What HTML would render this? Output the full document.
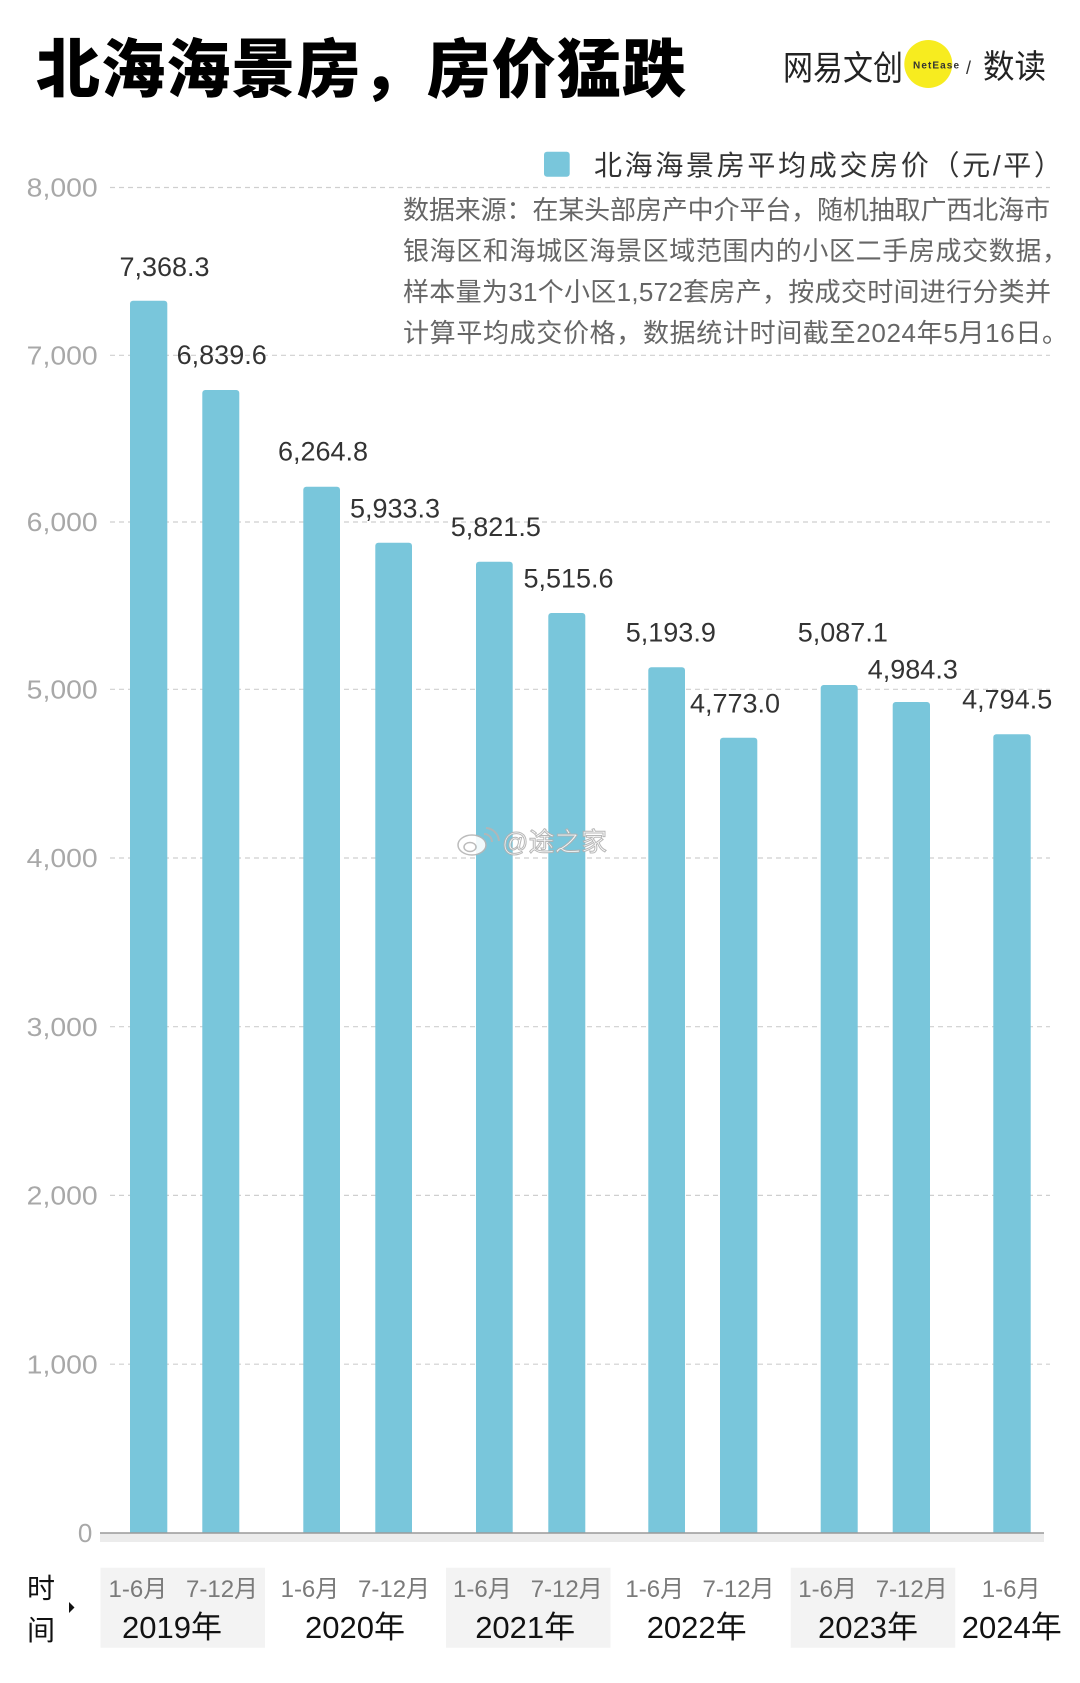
<!DOCTYPE html>
<html>
<head>
<meta charset="utf-8">
<style>
  html,body{margin:0;padding:0;background:#fff;}
  svg{display:block;}
  .cjk{font-family:"Liberation Sans","Noto Sans CJK SC",sans-serif;}
  .lat{font-family:"Liberation Sans","Noto Sans CJK SC",sans-serif;}
</style>
</head>
<body>
<svg width="1080" height="1683" viewBox="0 0 1080 1683" xmlns="http://www.w3.org/2000/svg">
  <rect x="0" y="0" width="1080" height="1683" fill="#ffffff"/>

  <!-- Title -->
  <text class="cjk" x="36" y="92" font-size="64" font-weight="900" fill="#000" textLength="650" lengthAdjust="spacing">北海海景房，房价猛跌</text>

  <!-- Logo -->
  <text class="cjk" x="783" y="80" font-size="34" fill="#222" textLength="120" lengthAdjust="spacingAndGlyphs">网易文创</text>
  <circle cx="928.3" cy="64" r="24" fill="#f7ec1f"/>
  <text class="lat" x="913" y="68.5" font-size="10" font-weight="bold" fill="#333" textLength="46" lengthAdjust="spacing">NetEase</text>
  <text class="lat" x="966" y="74" font-size="18" fill="#333">/</text>
  <text class="cjk" x="983" y="78" font-size="33" fill="#222" textLength="63" lengthAdjust="spacingAndGlyphs">数读</text>

  <!-- Gridlines -->
  <g stroke="#cfcfcf" stroke-width="1.2" stroke-dasharray="5 4">
    <line x1="110" y1="187.5" x2="1050" y2="187.5"/>
    <line x1="110" y1="355.3" x2="1050" y2="355.3"/>
    <line x1="110" y1="522" x2="1050" y2="522"/>
    <line x1="110" y1="689.3" x2="1050" y2="689.3"/>
    <line x1="110" y1="858" x2="1050" y2="858"/>
    <line x1="110" y1="1026.7" x2="1050" y2="1026.7"/>
    <line x1="110" y1="1195.4" x2="1050" y2="1195.4"/>
    <line x1="110" y1="1364.2" x2="1050" y2="1364.2"/>
  </g>

  <!-- Y axis labels -->
  <g class="lat" font-size="26" fill="#a8a8a8" text-anchor="end">
    <text x="97.7" y="196.7" textLength="71" lengthAdjust="spacingAndGlyphs">8,000</text>
    <text x="97.7" y="364.5" textLength="71" lengthAdjust="spacingAndGlyphs">7,000</text>
    <text x="97.7" y="531.2" textLength="71" lengthAdjust="spacingAndGlyphs">6,000</text>
    <text x="97.7" y="698.5" textLength="71" lengthAdjust="spacingAndGlyphs">5,000</text>
    <text x="97.7" y="867.2" textLength="71" lengthAdjust="spacingAndGlyphs">4,000</text>
    <text x="97.7" y="1035.9" textLength="71" lengthAdjust="spacingAndGlyphs">3,000</text>
    <text x="97.7" y="1204.6" textLength="71" lengthAdjust="spacingAndGlyphs">2,000</text>
    <text x="97.7" y="1373.4" textLength="71" lengthAdjust="spacingAndGlyphs">1,000</text>
    <text x="92.3" y="1542">0</text>
  </g>

  <!-- Legend -->
  <rect x="544" y="151.7" width="25.7" height="25" rx="3" fill="#79c6db"/>
  <text class="cjk" x="594" y="175" font-size="28" fill="#333" textLength="468" lengthAdjust="spacing">北海海景房平均成交房价（元/平）</text>

  <!-- Source text -->
  <g class="cjk" font-size="26" fill="#666">
    <text x="403" y="219" textLength="647" lengthAdjust="spacing">数据来源：在某头部房产中介平台，随机抽取广西北海市</text>
    <text x="403" y="260" textLength="665" lengthAdjust="spacing">银海区和海城区海景区域范围内的小区二手房成交数据，</text>
    <text x="403" y="301" textLength="648" lengthAdjust="spacing">样本量为31个小区1,572套房产，按成交时间进行分类并</text>
    <text x="403" y="342" textLength="665" lengthAdjust="spacing">计算平均成交价格，数据统计时间截至2024年5月16日。</text>
  </g>

  <!-- Bars -->
  <g fill="#79c6db">
    <rect x="130" y="300.7" width="37.3" height="1240" rx="3"/>
    <rect x="202.3" y="390" width="37" height="1150" rx="3"/>
    <rect x="303.3" y="486.7" width="36.7" height="1054" rx="3"/>
    <rect x="375.3" y="542.7" width="36.7" height="998" rx="3"/>
    <rect x="476" y="561.7" width="36.7" height="979" rx="3"/>
    <rect x="548.3" y="613" width="37" height="928" rx="3"/>
    <rect x="648.3" y="667.3" width="36.7" height="873" rx="3"/>
    <rect x="720" y="737.7" width="37.3" height="803" rx="3"/>
    <rect x="820.7" y="685" width="37" height="855" rx="3"/>
    <rect x="892.7" y="702" width="37.3" height="838" rx="3"/>
    <rect x="993.3" y="734.3" width="37.4" height="806" rx="3"/>
  </g>

  <!-- Axis -->
  <rect x="100" y="1533.5" width="944" height="8.5" fill="#ececec"/>
  <line x1="100" y1="1533" x2="1044" y2="1533" stroke="#9a9a9a" stroke-width="1.5"/>

  <!-- Value labels -->
  <g class="lat" font-size="27" fill="#333" text-anchor="middle">
    <text x="164.5" y="276">7,368.3</text>
    <text x="221.7" y="364">6,839.6</text>
    <text x="323" y="460.7">6,264.8</text>
    <text x="395" y="517.3">5,933.3</text>
    <text x="495.8" y="536">5,821.5</text>
    <text x="568.5" y="587.5">5,515.6</text>
    <text x="670.8" y="641.7">5,193.9</text>
    <text x="735" y="712.7">4,773.0</text>
    <text x="842.8" y="641.7">5,087.1</text>
    <text x="912.8" y="678.3">4,984.3</text>
    <text x="1007.2" y="708.3">4,794.5</text>
  </g>

  <!-- Watermark -->
  <g opacity="0.9">
    <ellipse cx="472" cy="845" rx="14" ry="10" fill="#fff" stroke="#b5b5b5" stroke-width="1.5"/>
    <ellipse cx="470" cy="847" rx="6" ry="4.5" fill="none" stroke="#b5b5b5" stroke-width="1.5"/>
    <path d="M484 834 a8 8 0 0 1 8 8" fill="none" stroke="#b5b5b5" stroke-width="2"/>
    <path d="M486 828 a14 14 0 0 1 13 13" fill="none" stroke="#b5b5b5" stroke-width="2"/>
    <text class="cjk" x="502" y="851" font-size="26" fill="#fff" stroke="#b0b0b0" stroke-width="1" textLength="105" lengthAdjust="spacing">@途之家</text>
  </g>

  <!-- Bottom category boxes -->
  <g fill="#f3f3f3">
    <rect x="100.5" y="1567.7" width="164.5" height="80"/>
    <rect x="446" y="1567.7" width="164.5" height="80"/>
    <rect x="790.7" y="1567.7" width="164.5" height="80"/>
  </g>

  <!-- 时间 -->
  <text class="cjk" x="27" y="1598" font-size="28" fill="#111">时</text>
  <text class="cjk" x="27" y="1640" font-size="28" fill="#111">间</text>
  <polygon points="69,1602 74.5,1607.5 69,1613" fill="#111"/>

  <!-- Period labels -->
  <g class="cjk" font-size="24" fill="#7a7a7a">
    <text x="108.5" y="1597">1-6月</text>
    <text x="186" y="1597">7-12月</text>
    <text x="280.6" y="1597">1-6月</text>
    <text x="358" y="1597">7-12月</text>
    <text x="453" y="1597">1-6月</text>
    <text x="530.7" y="1597">7-12月</text>
    <text x="625.4" y="1597">1-6月</text>
    <text x="702.5" y="1597">7-12月</text>
    <text x="798.3" y="1597">1-6月</text>
    <text x="875.7" y="1597">7-12月</text>
    <text x="981.8" y="1597">1-6月</text>
  </g>

  <!-- Year labels -->
  <g class="cjk" font-size="31" fill="#111">
    <text x="122" y="1638">2019年</text>
    <text x="305" y="1638">2020年</text>
    <text x="475.2" y="1638">2021年</text>
    <text x="646.7" y="1638">2022年</text>
    <text x="818" y="1638">2023年</text>
    <text x="961.8" y="1638">2024年</text>
  </g>
</svg>
</body>
</html>
